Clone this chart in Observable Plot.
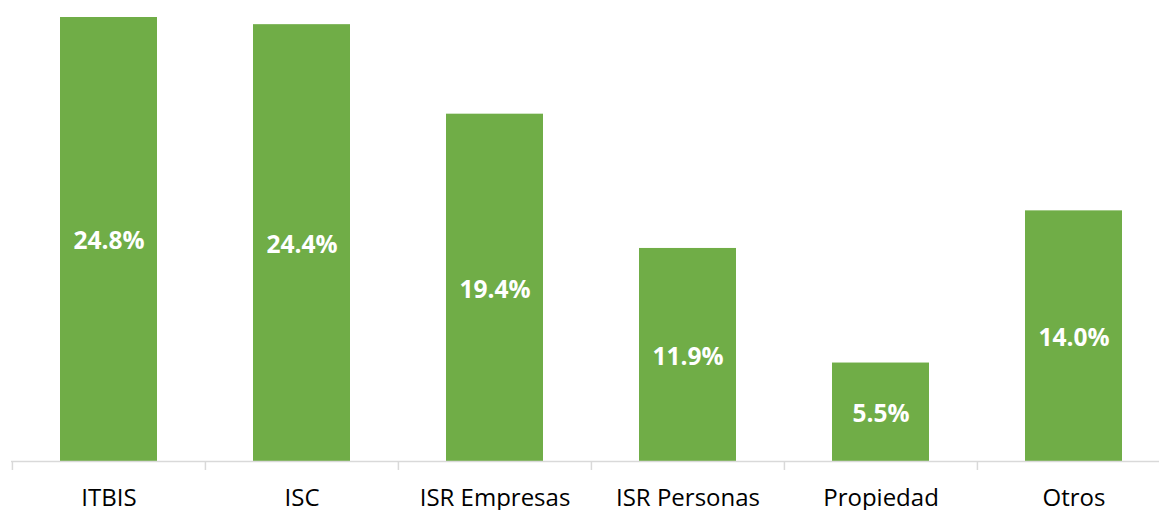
<!DOCTYPE html>
<html>
<head>
<meta charset="utf-8">
<script src="https://cdn.jsdelivr.net/npm/d3@7"></script>
<script src="https://cdn.jsdelivr.net/npm/@observablehq/plot@0.6"></script>
<style>
  html, body { margin: 0; padding: 0; background: #fff; }
  #chart svg { display: block; }
</style>
</head>
<body>
<div id="chart"></div>
<script>
const categories = ["ITBIS", "ISC", "ISR Empresas", "ISR Personas", "Propiedad", "Otros"];
const values = [24.8, 24.4, 19.4, 11.9, 5.5, 14.0];

const data = categories.map((c, i) => ({cat: c, value: values[i]}));

const W = 1159, H = 510;
const left = 11, right = 1170;
const step = (right - left) / categories.length;
const font = "'Open Sans', sans-serif";

const chart = Plot.plot({
  width: W,
  height: H,
  marginTop: 0,
  marginBottom: 49,
  marginLeft: left,
  marginRight: 0,
  style: {fontFamily: font, background: "#fff", overflow: "visible"},
  x: {domain: categories, range: [left, right], paddingInner: 0.5, paddingOuter: 0.25, label: null},
  y: {domain: [0, 25.75], axis: null},
  marks: [
    Plot.barY(data, {x: "cat", y: "value", fill: "#70AD47"}),
    Plot.ruleY([0], {stroke: "#d9d9d9", strokeWidth: 1.5}),
    Plot.ruleX(categories, {x: d => d, y1: 0, y2: -0.5, dx: -step / 2, stroke: "#d9d9d9", strokeWidth: 1.5}),
    Plot.text(data, {x: "cat", y: d => d.value / 2, text: d => d.value.toFixed(1) + "%", fill: "white", fontWeight: "bold", fontSize: 24.5, fontFamily: font, dy: 2}),
    Plot.axisX({tickSize: 0, tickPadding: 27.5, fontSize: 24, color: "#000", fontFamily: font, label: null})
  ]
});
document.getElementById("chart").appendChild(chart);
</script>
</body>
</html>
